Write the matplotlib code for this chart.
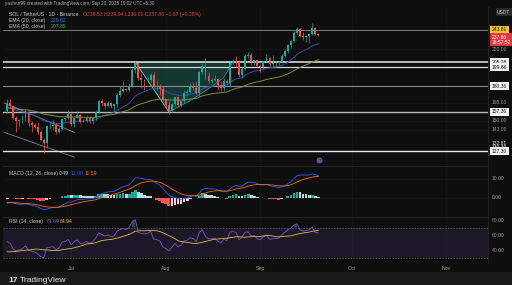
import numpy as np
import pandas as pd
import matplotlib
matplotlib.use('Agg')
import matplotlib.pyplot as plt
import matplotlib.dates as mdates
from matplotlib.patches import Rectangle

# SOL / USDT daily candles (Binance), Jun 10 - Sep 20 2025
dates = pd.date_range('2025-06-10', '2025-09-20', freq='D')
first_open = 158.0
closes = [165.4, 162.6, 152.6, 149.6, 150.8, 152.2, 155.8, 148.2, 146.5, 145.2, 141.6,
          135.6, 133.4, 145.5, 145.6, 146.4, 141.0, 143.4, 151.2, 152.0, 155.2,
          147.3, 152.2, 154.9, 149.4, 150.2, 152.6, 149.9, 151.9, 157.0, 166.4, 164.6,
          162.4, 164.8, 162.4, 163.9, 172.1, 175.9, 177.6, 176.8, 180.6, 197.2, 204.2,
          188.4, 186.3, 185.9, 186.8, 191.9, 180.6, 179.6, 177.4, 167.3,
          163.5, 158.3, 163.8, 170.1, 163.4, 166.3, 174.2, 175.2, 180.3, 178.7, 174.0,
          194.9, 201.5, 190.6, 185.9, 186.2, 187.3, 182.1, 178.5, 185.6, 183.4, 204.2,
          206.0, 204.9, 191.3, 198.3, 212.6, 213.4, 205.2, 207.3, 200.7,
          199.5, 206.3, 210.3, 202.7, 203.8, 204.2, 205.0, 211.8, 218.2, 224.4, 230.2,
          240.3, 245.1, 236.4, 234.5, 235.9, 238.6, 246.8, 238.5, 237.86]
highs = [168.3, 168.4, 163.5, 153.5, 151.8, 154.3, 159.6, 157.9, 149.5, 148.0, 148.9,
         143.0, 136.9, 146.3, 149.0, 150.8, 148.0, 145.0, 152.2, 153.3, 159.0,
         157.6, 153.4, 157.8, 155.3, 151.1, 154.0, 153.6, 152.9, 158.6, 168.0, 168.9,
         165.7, 166.7, 166.2, 164.5, 173.9, 180.2, 185.7, 179.1, 183.6, 198.6, 206.3,
         205.8, 194.1, 187.6, 189.3, 193.8, 195.2, 186.1, 183.0, 180.4,
         168.0, 166.5, 164.6, 170.8, 171.2, 167.6, 176.4, 177.8, 183.6, 184.5, 185.2,
         195.3, 204.2, 209.9, 195.0, 188.4, 191.3, 188.5, 185.3, 188.9, 187.8, 206.4,
         209.0, 212.0, 207.3, 199.5, 214.8, 217.2, 215.7, 208.6, 208.1,
         203.2, 206.8, 214.0, 211.4, 212.8, 205.6, 206.6, 214.6, 220.0, 226.6, 231.0,
         242.3, 247.9, 245.9, 241.4, 237.8, 240.5, 253.5, 247.4, 239.94]
lows = [156.5, 161.0, 151.8, 141.4, 145.9, 148.5, 150.2, 145.8, 141.6, 144.2, 139.4,
        134.3, 126.0, 130.7, 143.7, 142.8, 139.8, 140.2, 142.4, 149.1, 151.6,
        146.2, 145.1, 151.9, 148.0, 148.7, 148.8, 148.3, 147.5, 150.8, 156.0, 162.0,
        159.6, 161.7, 160.5, 157.6, 161.8, 170.0, 175.0, 175.8, 175.6, 179.8, 193.6,
        187.0, 178.4, 176.4, 184.0, 184.4, 179.3, 176.6, 172.1, 166.4,
        160.8, 155.8, 157.6, 162.6, 161.2, 161.6, 165.1, 171.3, 174.0, 177.0, 172.9,
        170.9, 193.0, 187.3, 183.7, 183.8, 185.8, 176.8, 175.0, 175.9, 181.4, 179.7,
        201.8, 200.5, 189.5, 188.2, 196.6, 209.4, 202.2, 202.0, 199.8,
        195.0, 197.6, 205.4, 200.6, 200.5, 200.5, 202.0, 203.8, 210.6, 216.0, 221.7,
        228.6, 238.1, 234.6, 230.5, 228.7, 228.0, 236.8, 237.0, 236.01]
# closes from May 1 - Jun 9, only used to warm up the indicators
warmup_closes = [151.5, 147.0, 146.2, 145.9, 147.3, 148.3, 146.2, 163.5, 171.3, 175.0,
                 173.0, 177.7, 181.0, 176.2, 170.0, 170.7, 167.7, 167.4, 167.3, 168.2,
                 172.4, 180.1, 175.9, 176.4, 178.6, 176.5, 178.2, 175.6, 165.5, 159.3,
                 156.3, 156.4, 161.4, 155.8, 153.0, 145.5, 149.2, 152.7, 152.0, 158.0]

# drawings on the chart
levels = [243.81, 205.28, 199.86, 180.36, 157.36, 127.30]
level_colors = ['#8c8c8c', '#e6e6e6', '#d6d6d6', '#8c8c8c', '#b8b8b8', '#e6e6e6']
level_widths = [0.6, 1.1, 0.9, 0.8, 1.0, 1.0]
cup_dates = ['2025-07-22', '2025-08-02', '2025-08-09', '2025-08-16', '2025-08-20', '2025-08-23']
cup_prices = [205.28, 157.36, 167.0, 180.0, 189.0, 205.28]
chan_dates = ['2025-06-09', '2025-07-02']
chan_upper = [165.0, 141.0]
chan_lower = [141.0, 123.5]
price_ticks = [220, 165, 150, 143]
macd_ticks = [10, 0]
rsi_ticks = [80, 60, 40]
month_ticks = ['2025-07-01', '2025-08-01', '2025-09-01', '2025-10-01', '2025-11-01']
month_labels = ['Jul', 'Aug', 'Sep', 'Oct', 'Nov']

BG = '#0e0e0e'
UP, DN = '#26a69a', '#ef5350'
TXT = '#9a9a9a'
plt.rcParams['font.family'] = ['Liberation Sans', 'DejaVu Sans']

opens = [first_open] + closes[:-1]
x = mdates.date2num(dates)

allc = pd.Series(warmup_closes + closes)
n0 = len(warmup_closes)
ema20 = allc.ewm(span=20, adjust=False).mean()[n0:]
ema50 = allc.ewm(span=50, adjust=False).mean()[n0:]
macd_full = allc.ewm(span=12, adjust=False).mean() - allc.ewm(span=26, adjust=False).mean()
sig_full = macd_full.ewm(span=9, adjust=False).mean()
hist_full = macd_full - sig_full
delta = allc.diff()
gain = delta.clip(lower=0).ewm(alpha=1 / 14, adjust=False).mean()
loss = (-delta.clip(upper=0)).ewm(alpha=1 / 14, adjust=False).mean()
rsi_full = 100 - 100 / (1 + gain / loss)
rsi_ma_full = rsi_full.rolling(14).mean()
macd, sig, hist = macd_full[n0:].values, sig_full[n0:].values, hist_full[n0:].values
rsi, rsi_ma = rsi_full[n0:].values, rsi_ma_full[n0:].values
hist_prev = hist_full[n0 - 1:-1].values

fig = plt.figure(figsize=(5.12, 2.85), dpi=100, facecolor=BG)
W, H = 512, 285
L, R = 3 / W, 488 / W


def pane(top, bot):
    a = fig.add_axes([L, 1 - bot / H, R - L, (bot - top) / H])
    a.set_facecolor(BG)
    for s in a.spines.values():
        s.set_visible(False)
    a.spines['right'].set_visible(True)
    a.spines['right'].set_color('#262626')
    a.spines['right'].set_linewidth(0.6)
    a.set_xticks([])
    a.set_yticks([])
    a.set_xlim(mdates.date2num(pd.Timestamp('2025-06-08 15:00')),
               mdates.date2num(pd.Timestamp('2025-11-14 15:00')))
    for m in month_ticks:
        a.axvline(mdates.date2num(pd.Timestamp(m)), color='#171717', lw=0.5, zorder=0)
    return a


ax = pane(7, 165)
axm = pane(166, 216)
axr = pane(217, 263)
for a in (axm, axr):
    a.spines['top'].set_visible(True)
    a.spines['top'].set_color('#262626')
    a.spines['top'].set_linewidth(0.6)

# ---------- price pane ----------
ax.set_yscale('log')
ax.set_ylim(118.4, 275.7)
ax.minorticks_off()
for p in price_ticks:
    ax.axhline(p, color='#171717', lw=0.5, zorder=0)

cup_x = mdates.date2num(pd.to_datetime(cup_dates))
ax.fill(cup_x, cup_prices, color='#1c5a50', alpha=0.55, lw=0, zorder=1)
ax.plot(cup_x[:2], cup_prices[:2], color='#7fd1c4', lw=0.6, zorder=2)
ax.plot([cup_x[0], cup_x[-1]], [cup_prices[0], cup_prices[-1]], color='#26a69a', lw=0.6, zorder=2)
ax.plot(cup_x[1:], cup_prices[1:], color='#26a69a', lw=0.5, zorder=2)

cx = mdates.date2num(pd.to_datetime(chan_dates))
ax.plot(cx, chan_upper, color='#7d8799', lw=0.6, zorder=2)
ax.plot(cx, chan_lower, color='#7d8799', lw=0.6, zorder=2)

for lv, c, w in zip(levels, level_colors, level_widths):
    ax.axhline(lv, color=c, lw=w, zorder=2)

ax.plot(x, ema20, color='#2f4fa8', lw=0.7, zorder=3)
ax.plot(x, ema50, color='#7d8f3a', lw=0.7, zorder=3)

o, c, h, l = map(np.array, (opens, closes, highs, lows))
cols = np.where(c >= o, UP, DN)
ax.vlines(x, l, h, colors=cols, lw=0.5, zorder=4)
body_lo = np.minimum(o, c)
body_h = np.maximum(np.abs(c - o), 0.4)
ax.bar(x, body_h, bottom=body_lo, width=0.62, color=cols, lw=0, zorder=5)

# event marker under the last candle
ax.plot([x[-1] + 0.3], [121.6], marker='o', ms=3.4, mfc='#2a1436', mec='#a050d0', mew=0.7,
        clip_on=False, zorder=6)
ax.plot([x[-1] + 0.3], [121.6], marker='o', ms=0.9, color='#a050d0', clip_on=False, zorder=7)

ytr = ax.get_yaxis_transform()
for p in price_ticks:
    ax.text(1.008, p, f'{p:.2f}', transform=ytr, fontsize=3.6, color=TXT, va='center',
            ha='left', clip_on=False)
box_levels = [205.28, 199.86, 180.36, 157.36, 127.30]
for p in box_levels:
    ax.text(1.008, p, f'{p:.2f}', transform=ytr, fontsize=3.6, color='#111111', va='center',
            ha='left', clip_on=False,
            bbox=dict(boxstyle='square,pad=0.3', fc='#f2f2f2', ec='none'))
for p in (132.81, 130.30):
    ax.text(1.008, p, f'{p:.2f}', transform=ytr, fontsize=3.6, color='#e8e8e8', va='center',
            ha='left', clip_on=False)
ax.text(1.008, 243.81, '243.81', transform=ytr, fontsize=3.6, color='#111111', va='center',
        ha='left', clip_on=False, bbox=dict(boxstyle='square,pad=0.3', fc='#f2c230', ec='none'))
ax.text(1.008, 237.86, '237.86\n16:57:52', transform=ytr, fontsize=3.6, color='white', va='top',
        ha='left', clip_on=False, linespacing=1.1,
        bbox=dict(boxstyle='square,pad=0.3', fc='#e0383f', ec='none'))

# legend
ax.text(0.012, 0.955, 'SOL / TetherUS · 1D · Binance', transform=ax.transAxes, fontsize=3.7,
        color='#c8c8c8', va='center')
ax.text(0.165, 0.955, 'O238.53 H239.94 L236.01 C237.86 −0.67 (−0.28%)', transform=ax.transAxes,
        fontsize=3.7, color='#e0474c', va='center')
ax.text(0.012, 0.915, 'EMA (20, close)', transform=ax.transAxes, fontsize=3.7, color='#c8c8c8',
        va='center')
ax.text(0.098, 0.915, '229.82', transform=ax.transAxes, fontsize=3.7, color='#3d6cf0', va='center')
ax.text(0.012, 0.875, 'EMA (50, close)', transform=ax.transAxes, fontsize=3.7, color='#c8c8c8',
        va='center')
ax.text(0.098, 0.875, '207.85', transform=ax.transAxes, fontsize=3.7, color='#4caf50', va='center')
fig.text(497 / W, 1 - 12 / H, 'USDT', fontsize=3.5, color='#d0d0d0', va='center', ha='left',
         bbox=dict(boxstyle='square,pad=0.3', fc='#2a2a2a', ec='none'))
fig.text(5 / W, 1 - 3 / H, 'yashnn99 created with TradingView.com, Sep 20, 2025 19:02 UTC+5:30',
         fontsize=3.3, color='#b0b0b0', va='center', ha='left')

# ---------- MACD pane ----------
axm.set_ylim(-9.3, 16.5)
hcols = []
for hv, hp in zip(hist, hist_prev):
    if hv >= 0:
        hcols.append('#26a69a' if hv > hp else '#b2dfdb')
    else:
        hcols.append('#ff5252' if hv < hp else '#ffcdd2')
axm.bar(x, hist, width=0.9, color=hcols, lw=0, zorder=3)
axm.plot(x, macd, color='#2962ff', lw=0.6, zorder=4)
axm.plot(x, sig, color='#ff6d00', lw=0.6, zorder=4)
ytm = axm.get_yaxis_transform()
for t in macd_ticks:
    axm.axhline(t, color='#171717', lw=0.5, zorder=0)
    axm.text(1.008, t, f'{t:.2f}', transform=ytm, fontsize=3.6, color=TXT, va='center',
             ha='left', clip_on=False)
axm.text(0.012, 0.85, 'MACD (12, 26, close)', transform=axm.transAxes, fontsize=3.7,
         color='#c8c8c8', va='center')
axm.text(0.115, 0.85, '0.49', transform=axm.transAxes, fontsize=3.7, color='#c8c8c8', va='center')
axm.text(0.14, 0.85, '12.08', transform=axm.transAxes, fontsize=3.7, color='#2962ff', va='center')
axm.text(0.168, 0.85, '11.59', transform=axm.transAxes, fontsize=3.7, color='#ff6d00', va='center')

# ---------- RSI pane ----------
axr.set_ylim(22.7, 84.0)
axr.axhspan(30, 70, color='#7e57c2', alpha=0.14, lw=0, zorder=0)
axr.axhline(70, color='#6a6a7a', lw=0.5, ls=(0, (2, 2)), zorder=1)
axr.axhline(30, color='#6a6a7a', lw=0.5, ls=(0, (2, 2)), zorder=1)
axr.fill_between(x, 70, rsi, where=rsi > 70, color='#26a69a', alpha=0.45, lw=0, zorder=2)
axr.plot(x, rsi, color='#7e57c2', lw=0.6, zorder=3)
axr.plot(x, rsi_ma, color='#e6b84a', lw=0.6, zorder=3)
ytr2 = axr.get_yaxis_transform()
for t in rsi_ticks:
    axr.text(1.008, t, f'{t:.2f}', transform=ytr2, fontsize=3.6, color=TXT, va='center',
             ha='left', clip_on=False)
axr.text(0.012, 0.9, 'RSI (14, close)', transform=axr.transAxes, fontsize=3.7, color='#c8c8c8',
         va='center')
axr.text(0.09, 0.9, '61.69', transform=axr.transAxes, fontsize=3.7, color='#7e57c2', va='center')
axr.text(0.117, 0.9, '64.94', transform=axr.transAxes, fontsize=3.7, color='#e6b84a', va='center')

# time axis
for m, lab in zip(month_ticks, month_labels):
    xm = mdates.date2num(pd.Timestamp(m))
    axr.annotate(lab, (xm, 0), xycoords=axr.get_xaxis_transform(), xytext=(0, -4),
                 textcoords='offset points', fontsize=3.8, color=TXT, ha='center', va='center',
                 annotation_clip=False)

# bottom strip with logo
fig.patches.append(Rectangle((0, 0), 1, 13 / H, transform=fig.transFigure, fc='#1a1a1a',
                             ec='none', zorder=0))
fig.text(8 / W, 4.5 / H, '17', fontsize=6, fontweight='bold', color='#e8e8e8', va='center')
fig.text(20 / W, 4.5 / H, 'TradingView', fontsize=6, color='#e8e8e8', va='center')

fig.savefig('out.png', dpi=100, facecolor=BG)
